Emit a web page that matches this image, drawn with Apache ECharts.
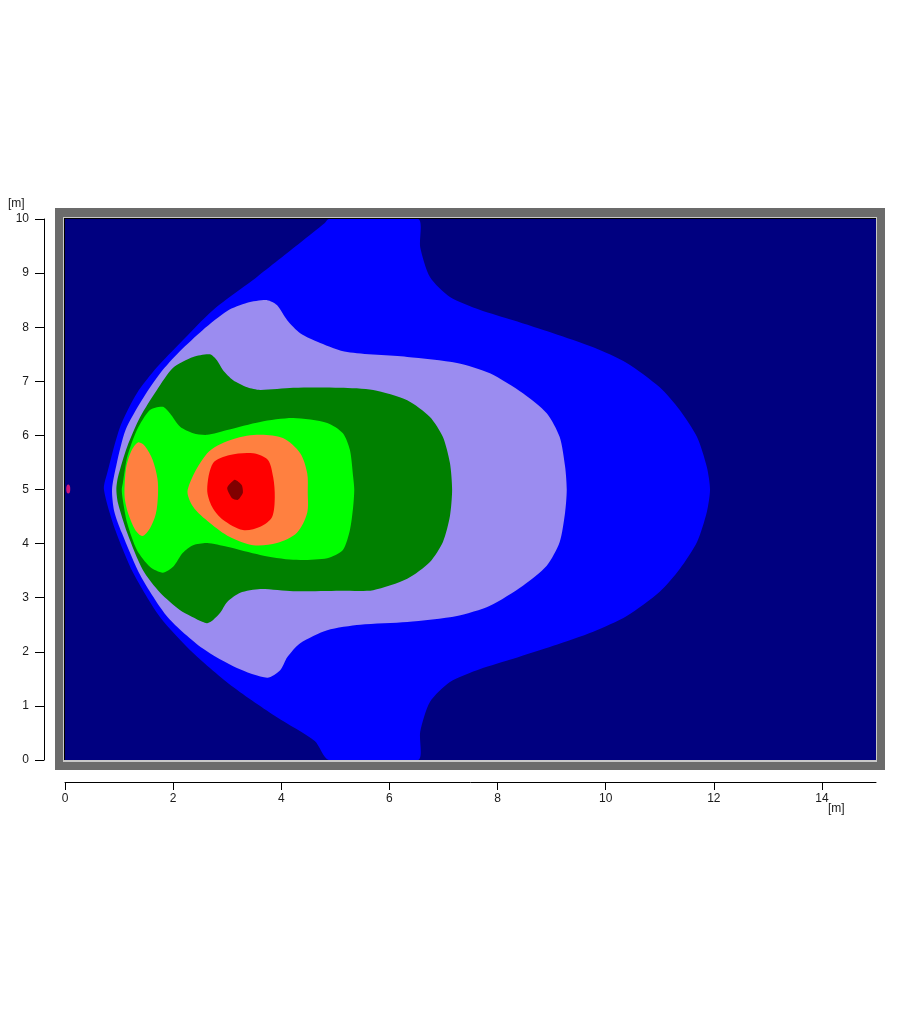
<!DOCTYPE html>
<html>
<head>
<meta charset="utf-8">
<script src="https://cdn.jsdelivr.net/npm/echarts@6/dist/echarts.min.js"></script>
<style>
html,body{margin:0;padding:0;background:#ffffff;}
#chart{width:900px;height:1021px;}
</style>
</head>
<body>
<div id="chart"></div>
<script>
// ---- tick labels ----
const xTickValues = [0, 2, 4, 6, 8, 10, 12, 14];
const yTickValues = [0, 1, 2, 3, 4, 5, 6, 7, 8, 9, 10];
const unitLabel = '[m]';

// ---- contour zones, [x (m), y (m)] boundary points ----
const blueZone = [
  [4.88,10],[6.53,10],[6.57,9.48],[6.75,8.93],[7.12,8.56],[7.68,8.32],[8.29,8.13],[9.03,7.89],
  [9.77,7.63],[10.39,7.34],[11.0,6.89],[11.37,6.47],[11.69,5.97],[11.87,5.42],[11.93,5.0],
  [11.87,4.58],[11.69,4.03],[11.37,3.53],[11.0,3.11],[10.39,2.66],[9.77,2.37],[9.03,2.11],
  [8.29,1.87],[7.68,1.68],[7.12,1.44],[6.75,1.07],[6.57,0.52],[6.53,0],[4.88,0],
  [4.62,0.35],[3.92,0.79],[3.11,1.35],[2.37,1.98],[1.76,2.64],[1.26,3.46],[0.93,4.25],[0.72,5.0],
  [0.78,5.3],[1.02,6.16],[1.33,6.78],[1.70,7.26],[2.13,7.71],[2.74,8.32],[3.55,8.93],[4.35,9.56],[4.80,9.92]
];
const lilacZone = [
  [0.87,5.0],[0.95,5.45],[1.12,6.10],[1.42,6.65],[1.76,7.15],[2.12,7.55],[2.55,7.95],[3.0,8.30],
  [3.37,8.45],[3.74,8.50],[3.92,8.41],[4.11,8.13],[4.35,7.89],[4.72,7.71],[5.22,7.54],[6.33,7.45],
  [7.25,7.34],[7.86,7.15],[8.47,6.78],[8.91,6.41],[9.15,5.97],[9.25,5.42],[9.28,5.0],
  [9.25,4.58],[9.15,4.03],[8.91,3.59],[8.47,3.22],[7.86,2.85],[7.25,2.66],[6.33,2.55],[5.46,2.50],
  [4.85,2.40],[4.35,2.16],[4.11,1.90],[3.98,1.66],[3.74,1.52],[3.18,1.70],[2.55,2.06],[1.90,2.64],
  [1.40,3.40],[1.05,4.20],[0.91,4.6]
];
const darkGreenZone = [
  [0.95,5.0],[0.98,5.23],[1.15,5.79],[1.39,6.34],[1.70,6.84],[2.0,7.25],[2.37,7.45],[2.68,7.50],
  [2.81,7.39],[2.92,7.21],[3.11,7.02],[3.37,6.89],[3.61,6.84],[4.22,6.88],[5.09,6.88],[5.70,6.84],
  [6.33,6.65],[6.75,6.34],[6.99,5.97],[7.12,5.49],[7.16,5.0],[7.12,4.51],[6.99,4.03],[6.75,3.66],
  [6.33,3.35],[5.70,3.14],[5.09,3.13],[4.22,3.12],[3.61,3.16],[3.24,3.09],[3.0,2.92],[2.87,2.72],
  [2.74,2.59],[2.63,2.53],[2.55,2.55],[2.13,2.77],[1.76,3.09],[1.44,3.51],[1.15,4.20],[0.98,4.75]
];
const greenZone = [
  [1.05,5.0],[1.07,5.12],[1.15,5.60],[1.33,6.10],[1.57,6.47],[1.81,6.53],[1.94,6.41],[2.13,6.16],
  [2.37,6.04],[2.63,6.01],[3.0,6.10],[3.61,6.25],[4.22,6.32],[4.85,6.23],[5.14,6.04],[5.27,5.73],
  [5.33,5.23],[5.35,5.0],[5.33,4.68],[5.27,4.25],[5.14,3.88],[4.85,3.73],[4.22,3.70],[3.61,3.79],
  [3.0,3.94],[2.63,4.01],[2.37,3.97],[2.18,3.83],[2.0,3.57],[1.81,3.46],[1.57,3.57],[1.33,3.88],
  [1.15,4.38],[1.07,4.8]
];
const orangeLeftZone = [
  [1.10,5.0],[1.13,5.4],[1.22,5.7],[1.35,5.87],[1.48,5.80],[1.62,5.55],[1.71,5.2],[1.72,4.9],
  [1.68,4.55],[1.57,4.28],[1.43,4.14],[1.30,4.25],[1.17,4.55],[1.11,4.8]
];
const orangeCoreZone = [
  [2.27,5.0],[2.63,5.67],[3.05,5.91],[3.55,6.01],[4.03,5.95],[4.35,5.67],[4.48,5.30],[4.49,4.94],
  [4.48,4.57],[4.29,4.20],[3.92,4.01],[3.48,3.97],[3.05,4.12],[2.68,4.38],[2.37,4.68]
];
const redZone = [
  [2.63,5.0],[2.74,5.49],[3.05,5.64],[3.48,5.67],[3.75,5.55],[3.85,5.23],[3.88,4.86],[3.83,4.49],
  [3.61,4.31],[3.29,4.25],[2.92,4.44],[2.72,4.68]
];
const darkRedZone = [
  [3.0,5.03],[3.14,5.18],[3.27,5.08],[3.29,4.94],[3.20,4.81],[3.09,4.84]
];
const sourcePoint = [[0.06,5.01]];

// ---- chart ----
const GRID = {left: 65, top: 219, width: 811, height: 541};

function zoneSeries(name, points, color, smooth) {
  return {
    name: name,
    type: 'custom',
    clip: true,
    silent: true,
    data: points,
    itemStyle: {color: color},
    renderItem: function (params, api) {
      if (params.dataIndex !== 0) return null;
      const pts = points.map(function (p) { return api.coord(p); });
      return {
        type: 'polygon',
        shape: {points: pts, smooth: smooth},
        style: {fill: color}
      };
    }
  };
}

const chart = echarts.init(document.getElementById('chart'), null, {renderer: 'canvas'});
const textColor = '#1a1a1a';
const fontFamily = 'Liberation Sans, Arial, sans-serif';

chart.setOption({
  animation: false,
  backgroundColor: '#ffffff',
  grid: {left: GRID.left, top: GRID.top, width: GRID.width, height: GRID.height, show: false},
  graphic: [
    {type: 'rect', z: 0, silent: true, shape: {x: 55, y: 208, width: 830, height: 562}, style: {fill: '#6b6b6b'}},
    {type: 'rect', z: 0, silent: true, shape: {x: 63, y: 217, width: 814, height: 545}, style: {fill: '#c8c8c8'}},
    {type: 'rect', z: 0, silent: true, shape: {x: 64, y: 218, width: 812, height: 542}, style: {fill: '#000000'}},
    {type: 'rect', z: 0, silent: true, shape: {x: GRID.left, y: GRID.top, width: GRID.width, height: GRID.height}, style: {fill: '#000080'}},
    {type: 'text', z: 5, silent: true, left: 8, top: 198, style: {text: unitLabel, fill: textColor, font: '12px ' + fontFamily}},
    {type: 'text', z: 5, silent: true, left: 828, top: 803, style: {text: unitLabel, fill: textColor, font: '12px ' + fontFamily}}
  ],
  xAxis: {
    type: 'value', min: 0, max: 15, interval: 2,
    offset: 22,
    splitLine: {show: false},
    axisLine: {show: true, onZero: false, lineStyle: {color: '#000000', width: 1}},
    axisTick: {show: true, length: 8, customValues: xTickValues, lineStyle: {color: '#000000'}},
    axisLabel: {show: true, margin: 11, customValues: xTickValues, color: textColor, fontSize: 12, fontFamily: fontFamily}
  },
  yAxis: {
    type: 'value', min: 0, max: 10, interval: 1,
    offset: 21,
    splitLine: {show: false},
    axisLine: {show: true, onZero: false, lineStyle: {color: '#000000', width: 1}},
    axisTick: {show: true, length: 9, customValues: yTickValues, lineStyle: {color: '#000000'}},
    axisLabel: {show: true, margin: 15, customValues: yTickValues, color: textColor, fontSize: 12, fontFamily: fontFamily}
  },
  series: [
    zoneSeries('blue', blueZone, '#0000ff', 0.25),
    zoneSeries('lilac', lilacZone, '#9b8cf0', 0.25),
    zoneSeries('darkgreen', darkGreenZone, '#008000', 0.25),
    zoneSeries('green', greenZone, '#00ff00', 0.25),
    zoneSeries('orangeLeft', orangeLeftZone, '#ff8040', 0.3),
    zoneSeries('orangeCore', orangeCoreZone, '#ff8040', 0.3),
    zoneSeries('red', redZone, '#ff0000', 0.3),
    zoneSeries('darkred', darkRedZone, '#800000', 0.2),
    {
      name: 'source', type: 'scatter', silent: true,
      data: sourcePoint, symbol: 'circle', symbolSize: [4, 9],
      itemStyle: {color: '#ff1a75'}
    }
  ]
});
</script>
</body>
</html>
